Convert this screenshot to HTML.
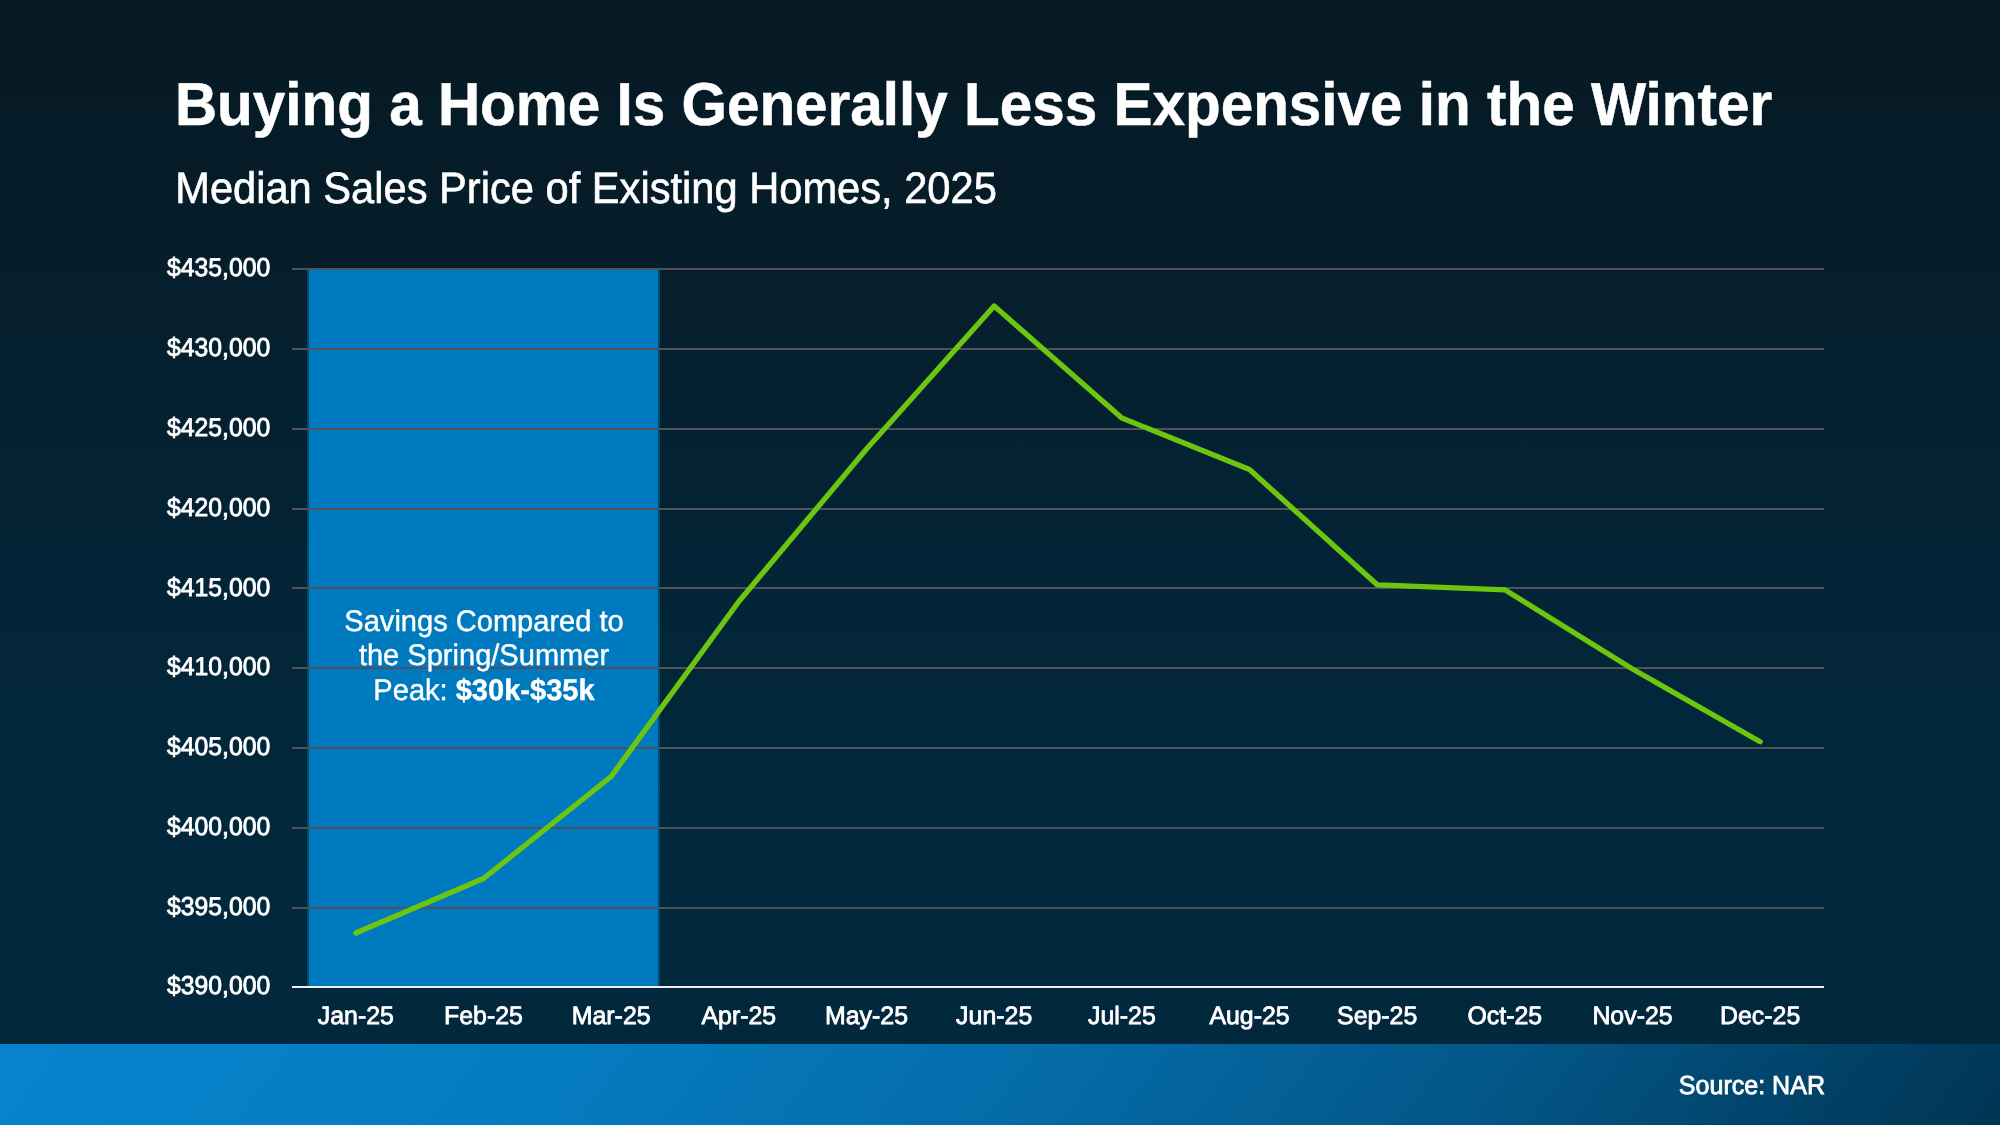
<!DOCTYPE html>
<html>
<head>
<meta charset="utf-8">
<style>
html,body{margin:0;padding:0;}
body{width:2000px;height:1125px;overflow:hidden;position:relative;
background:linear-gradient(180deg,#051923 0px,#061e2b 255px,#032436 550px,#02283c 805px,#02283e 1044px);
font-family:"Liberation Sans",sans-serif;}
.band{position:absolute;left:0;top:1044px;width:2000px;height:81px;
background:linear-gradient(127deg,#0783cd 0%,#057cc1 26.7%,#046ca9 50.9%,#035586 75.2%,#003655 98.9%,#003554 100%);}
svg{position:absolute;left:0;top:0;will-change:transform;}
</style>
</head>
<body>
<div class="band"></div>
<svg width="2000" height="1125" viewBox="0 0 2000 1125" font-family="Liberation Sans, sans-serif" text-rendering="geometricPrecision">

<rect x="307" y="270" width="353" height="716" fill="#004a6a"/>
<rect x="309" y="270" width="349" height="716" fill="#007abe"/>
<g fill="#50515a">
<rect x="292" y="268" width="1532" height="2"/>
<rect x="292" y="348" width="1532" height="2"/>
<rect x="292" y="428" width="1532" height="2"/>
<rect x="292" y="508" width="1532" height="2"/>
<rect x="292" y="587" width="1532" height="2"/>
<rect x="292" y="667" width="1532" height="2"/>
<rect x="292" y="747" width="1532" height="2"/>
<rect x="292" y="827" width="1532" height="2"/>
<rect x="292" y="907" width="1532" height="2"/>
</g>
<rect x="292" y="986" width="1532" height="2" fill="#f0eeee"/>
<polyline fill="none" stroke="#6cc60f" stroke-width="5.3" stroke-linejoin="round" stroke-linecap="round" points="355.83,933 483.50,878.5 611.17,776.5 738.83,601.5 866.50,449 994.17,306 1121.83,418 1249.50,469.5 1377.17,584.8 1504.83,589.8 1632.50,669 1760.17,741.8"/>
<text transform="translate(174.90,124.80) scale(1,1.037)" font-size="58.45" font-weight="bold" fill="#fff" stroke="#fff" stroke-width="0.5">Buying a Home Is Generally Less Expensive in the Winter</text>
<text transform="translate(175.20,202.50) scale(1,1.055)" font-size="41.65" fill="#fff" stroke="#fff" stroke-width="0.6">Median Sales Price of Existing Homes, 2025</text>
<g font-size="24.75" fill="#fff" stroke="#fff" stroke-width="0.8" text-anchor="end">
<text transform="translate(270.20,276.40) scale(1,1.04)" >$435,000</text>
<text transform="translate(270.20,356.18) scale(1,1.04)" >$430,000</text>
<text transform="translate(270.20,435.96) scale(1,1.04)" >$425,000</text>
<text transform="translate(270.20,515.73) scale(1,1.04)" >$420,000</text>
<text transform="translate(270.20,595.51) scale(1,1.04)" >$415,000</text>
<text transform="translate(270.20,675.29) scale(1,1.04)" >$410,000</text>
<text transform="translate(270.20,755.07) scale(1,1.04)" >$405,000</text>
<text transform="translate(270.20,834.84) scale(1,1.04)" >$400,000</text>
<text transform="translate(270.20,914.62) scale(1,1.04)" >$395,000</text>
<text transform="translate(270.20,994.40) scale(1,1.04)" >$390,000</text>
</g>
<g font-size="24.9" fill="#fff" stroke="#fff" stroke-width="0.8" text-anchor="middle">
<text transform="translate(355.83,1024.35) scale(1,1.01)" >Jan-25</text>
<text transform="translate(483.50,1024.35) scale(1,1.01)" >Feb-25</text>
<text transform="translate(611.17,1024.35) scale(1,1.01)" >Mar-25</text>
<text transform="translate(738.83,1024.35) scale(1,1.01)" >Apr-25</text>
<text transform="translate(866.50,1024.35) scale(1,1.01)" >May-25</text>
<text transform="translate(994.17,1024.35) scale(1,1.01)" >Jun-25</text>
<text transform="translate(1121.83,1024.35) scale(1,1.01)" >Jul-25</text>
<text transform="translate(1249.50,1024.35) scale(1,1.01)" >Aug-25</text>
<text transform="translate(1377.17,1024.35) scale(1,1.01)" >Sep-25</text>
<text transform="translate(1504.83,1024.35) scale(1,1.01)" >Oct-25</text>
<text transform="translate(1632.50,1024.35) scale(1,1.01)" >Nov-25</text>
<text transform="translate(1760.17,1024.35) scale(1,1.01)" >Dec-25</text>
</g>
<g font-size="29.05" fill="#fff" stroke="#fff" stroke-width="0.4" text-anchor="middle">
<text transform="translate(484.00,630.60) scale(1,1.025)" >Savings Compared to</text>
<text transform="translate(484.00,665.30) scale(1,1.025)" >the Spring/Summer</text>
<text transform="translate(484.00,700.20) scale(1,1.025)" >Peak: <tspan font-weight="bold">$30k-$35k</tspan></text>
</g>
<text transform="translate(1825.00,1093.80) scale(1,1.04)" font-size="25.05" fill="#fff" stroke="#fff" stroke-width="0.8" text-anchor="end">Source: NAR</text>
</svg>
</body>
</html>
